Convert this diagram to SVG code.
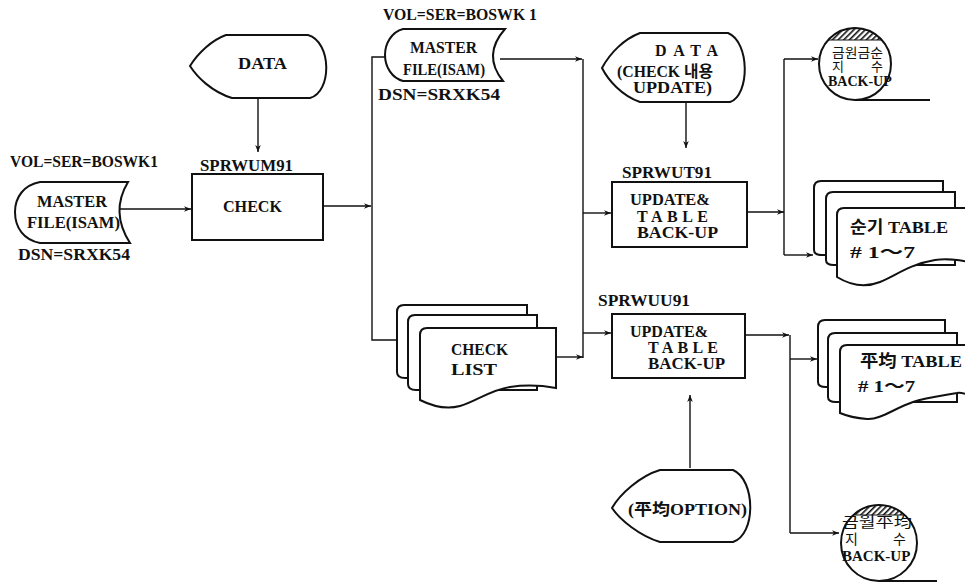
<svg xmlns="http://www.w3.org/2000/svg" width="965" height="585" viewBox="0 0 965 585">
<style>
.t{font-family:'Liberation Serif','Times New Roman','Noto Sans CJK KR',serif;font-size:16px;fill:#111;font-weight:bold}
.k{font-family:'Liberation Serif','Noto Sans CJK KR',serif;font-size:13px;fill:#111}
.s{fill:#fff;stroke:#111;stroke-width:2}
.c{fill:none;stroke:#111;stroke-width:1.4}
</style>
<defs>
<marker id="a" viewBox="0 0 10 10" refX="10" refY="5" markerWidth="7" markerHeight="7" orient="auto" markerUnits="userSpaceOnUse">
<path d="M0,1 L10,5 L0,9 L3,5 Z" fill="#111"/>
</marker>
<pattern id="h" width="4" height="4" patternUnits="userSpaceOnUse" patternTransform="rotate(45)">
<rect width="1.6" height="4" fill="#111"/>
</pattern>
</defs>
<g id="connectors" class="c">
<line x1="120" y1="209" x2="191" y2="209" marker-end="url(#a)"/>
<line x1="258" y1="98" x2="258" y2="152" marker-end="url(#a)"/>
<line x1="323" y1="206" x2="371" y2="206" marker-end="url(#a)"/>
<polyline points="385,57 372,57 372,340 397,340"/>
<line x1="500" y1="59" x2="582" y2="59" marker-end="url(#a)"/>
<line x1="583" y1="59" x2="583" y2="358"/>
<line x1="556" y1="357" x2="583" y2="357" marker-end="url(#a)"/>
<line x1="583" y1="213" x2="611" y2="213" marker-end="url(#a)"/>
<line x1="583" y1="333" x2="611" y2="333" marker-end="url(#a)"/>
<line x1="686" y1="102" x2="686" y2="148" marker-end="url(#a)"/>
<line x1="747" y1="212" x2="784" y2="212" marker-end="url(#a)"/>
<line x1="784" y1="59" x2="784" y2="255"/>
<line x1="784" y1="59" x2="818" y2="59" marker-end="url(#a)"/>
<line x1="784" y1="255" x2="813" y2="255" marker-end="url(#a)"/>
<line x1="690" y1="468" x2="690" y2="395" marker-end="url(#a)"/>
<line x1="745" y1="335" x2="789" y2="335" marker-end="url(#a)"/>
<line x1="790" y1="335" x2="790" y2="533"/>
<line x1="790" y1="359" x2="817" y2="359" marker-end="url(#a)"/>
<line x1="790" y1="533" x2="839" y2="533" marker-end="url(#a)"/>
</g>
<g id="master1">
<path class="s" d="M40,182 H128 Q110,212 130,243 H40 C24,240 15,228 15,212 C15,197 24,185 40,182 Z"/>
<text class="t" x="10" y="167" textLength="148" lengthAdjust="spacingAndGlyphs">VOL=SER=BOSWK1</text>
<text class="t" x="37" y="207" textLength="70" lengthAdjust="spacingAndGlyphs">MASTER</text>
<text class="t" x="27" y="228" textLength="93" lengthAdjust="spacingAndGlyphs">FILE(ISAM)</text>
<text class="t" x="18" y="260" textLength="112" lengthAdjust="spacingAndGlyphs">DSN=SRXK54</text>
</g>
<g id="data1">
<path class="s" d="M226,35 L308,35 C332,42 332,92 310,98 L232,98 C212,92 197,77 190,66 C198,53 212,40 226,35 Z"/>
<text class="t" x="238" y="69" textLength="49" lengthAdjust="spacingAndGlyphs">DATA</text>
</g>
<g id="check">
<rect class="s" x="192" y="174" width="131" height="66"/>
<text class="t" x="200" y="171" textLength="93" lengthAdjust="spacingAndGlyphs">SPRWUM91</text>
<text class="t" x="223" y="212" textLength="59" lengthAdjust="spacingAndGlyphs">CHECK</text>
</g>
<g id="master2">
<path class="s" d="M403,29 H505 Q482,55 503,81 H403 C392,78 385,67 385,55 C385,43 392,32 403,29 Z"/>
<text class="t" x="383" y="20" textLength="154" lengthAdjust="spacingAndGlyphs">VOL=SER=BOSWK 1</text>
<text class="t" x="410" y="53" textLength="67" lengthAdjust="spacingAndGlyphs">MASTER</text>
<text class="t" x="403" y="75" textLength="82" lengthAdjust="spacingAndGlyphs">FILE(ISAM)</text>
<text class="t" x="378" y="100" textLength="122" lengthAdjust="spacingAndGlyphs">DSN=SRXK54</text>
</g>
<g id="checklist">
<path class="s" d="M397,312 Q397,305 404,305 H527 V378 H405 Q397,378 397,372 Z"/>
<path class="s" d="M408,322 Q408,315 415,315 H537 V390 H416 Q408,390 408,384 Z"/>
<path class="s" d="M420,335 Q420,328 427,328 H556 V388 C545,386 530,384 510,387 C490,390 475,402 460,406 C445,410 432,406 420,400 Z"/>
<text class="t" x="451" y="355" textLength="57" lengthAdjust="spacingAndGlyphs">CHECK</text>
<text class="t" x="451" y="375" textLength="46" lengthAdjust="spacingAndGlyphs">LIST</text>
</g>
<g id="data2">
<path class="s" d="M640,33 H728 C750,42 750,95 730,102 H640 C622,96 608,80 602,68 C610,53 624,39 640,33 Z"/>
<text class="t" x="655" y="56" textLength="63" lengthAdjust="spacing">DATA</text>
<text class="t" x="617" y="77" textLength="96" lengthAdjust="spacingAndGlyphs">(CHECK 내용</text>
<text class="t" x="633" y="93" textLength="79" lengthAdjust="spacingAndGlyphs">UPDATE)</text>
</g>
<g id="sprwut91">
<rect class="s" x="612" y="182" width="135" height="65"/>
<text class="t" x="622" y="178" textLength="90" lengthAdjust="spacingAndGlyphs">SPRWUT91</text>
<text class="t" x="630" y="205" textLength="80" lengthAdjust="spacingAndGlyphs">UPDATE&amp;</text>
<text class="t" x="637" y="222" textLength="71" lengthAdjust="spacing">TABLE</text>
<text class="t" x="637" y="238" textLength="81" lengthAdjust="spacingAndGlyphs">BACK-UP</text>
</g>
<g id="sprwuu91">
<rect class="s" x="612" y="314" width="133" height="64"/>
<text class="t" x="598" y="306" textLength="92" lengthAdjust="spacingAndGlyphs">SPRWUU91</text>
<text class="t" x="630" y="337" textLength="78" lengthAdjust="spacingAndGlyphs">UPDATE&amp;</text>
<text class="t" x="648" y="353" textLength="70" lengthAdjust="spacing">TABLE</text>
<text class="t" x="648" y="369" textLength="77" lengthAdjust="spacingAndGlyphs">BACK-UP</text>
</g>
<g id="option">
<path class="s" d="M660,470 H733 C756,480 756,535 733,542 H660 C640,536 620,520 612,508 C620,494 640,476 660,470 Z"/>
<text class="t" x="628" y="515" textLength="119" lengthAdjust="spacingAndGlyphs">(平均OPTION)</text>
</g>
<g id="tape1">
<line class="c" x1="855" y1="100" x2="930" y2="100" style="stroke-width:2"/>
<circle class="s" cx="855" cy="64" r="36"/>
<path d="M828.2,40 A36,36 0 0 1 881.8,40 Z" fill="url(#h)" stroke="#111" stroke-width="1"/>
<text class="k"><tspan x="832" y="57" textLength="51" lengthAdjust="spacingAndGlyphs">금원금순</tspan><tspan x="832" y="71">지</tspan><tspan x="871" y="71">수</tspan><tspan x="828" y="86" style="font-size:14px;font-weight:bold">BACK-UP</tspan></text>
</g>
<g id="table1">
<path class="s" d="M814,188 Q814,181 821,181 H943 V255 H822 Q814,255 814,250 Z"/>
<path class="s" d="M826,199 Q826,192 833,192 H955 V265 H834 Q826,265 826,260 Z"/>
<path class="s" d="M837,215 Q837,208 844,208 H970 V262 C958,260 948,258 935,260 C910,264 895,276 880,282 C865,288 850,285 837,277 Z"/>
<text class="t" x="850" y="233" textLength="98" lengthAdjust="spacingAndGlyphs" style="font-size:17px">순기 TABLE</text>
<text class="t" x="850" y="258" textLength="65" lengthAdjust="spacingAndGlyphs" style="font-size:17px"># 1～7</text>
</g>
<g id="table2">
<path class="s" d="M818,327 Q818,320 825,320 H945 V387 H826 Q818,387 818,382 Z"/>
<path class="s" d="M828,340 Q828,333 835,333 H957 V402 H836 Q828,402 828,397 Z"/>
<path class="s" d="M840,352 Q840,345 847,345 H970 V395 C962,393 960,392 957,393 C940,396 925,398 913,402 C895,408 880,420 867,419 C855,418 847,416 840,413 Z"/>
<text class="t" x="860" y="367" textLength="102" lengthAdjust="spacingAndGlyphs" style="font-size:17px">平均 TABLE</text>
<text class="t" x="858" y="392" textLength="57" lengthAdjust="spacingAndGlyphs" style="font-size:17px"># 1～7</text>
</g>
<g id="tape2">
<line class="c" x1="879" y1="581" x2="937" y2="581" style="stroke-width:2"/>
<circle class="s" cx="879" cy="543" r="38"/>
<path d="M853.3,515 A38,38 0 0 1 904.7,515 Z" fill="url(#h)" stroke="#111" stroke-width="1"/>
<text class="k" style="font-size:14px"><tspan x="842" y="527" textLength="70" lengthAdjust="spacingAndGlyphs">금월平均</tspan><tspan x="845" y="544">지</tspan><tspan x="893" y="544">수</tspan><tspan x="842" y="561" style="font-size:15px;font-weight:bold">BACK-UP</tspan></text>
</g>
</svg>
